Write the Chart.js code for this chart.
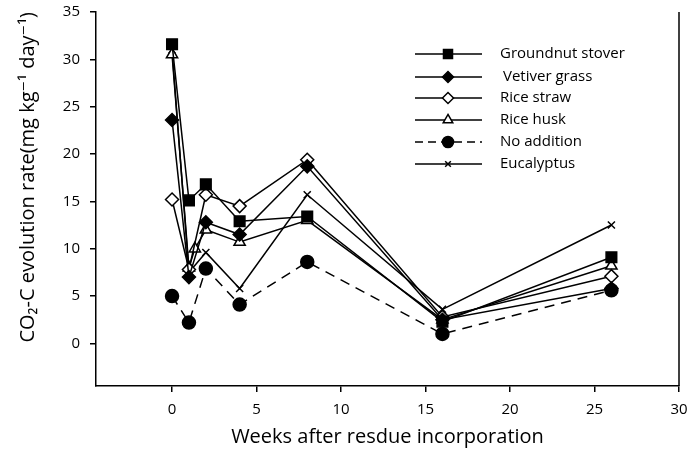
<!DOCTYPE html>
<html>
<head>
<meta charset="utf-8">
<script src="https://cdn.jsdelivr.net/npm/chart.js@4/dist/chart.umd.min.js"></script>
<style>
  html, body { margin: 0; padding: 0; background: #fff; }
  #wrap { width: 690px; height: 462px; }
</style>
</head>
<body>
<div id="wrap"><canvas id="co2"></canvas></div>
<script>
// weeks after incorporation and CO2-C evolution rate per residue
const weeks = [0, 1, 2, 4, 8, 16, 26];
const groundnut = [31.6, 15.1, 16.8, 12.9, 13.4, 2.3, 9.1];
const vetiver = [23.6, 7.0, 12.8, 11.5, 18.7, 2.5, 5.8];
const riceStraw = [15.2, 7.8, 15.7, 14.5, 19.4, 2.8, 7.1];
const riceHuskWeeks = [0, 1, 1.35, 2, 4, 8, 16, 26];
const riceHusk = [30.5, 8.0, 10.0, 12.0, 10.7, 13.0, 2.5, 8.2];
const noAddition = [5.0, 2.2, 7.9, 4.1, 8.6, 1.0, 5.6];
const eucWeeks = [0, 1, 2, 4, 8, 16, 26];
const eucalyptus = [31.0, 7.5, 9.6, 5.8, 15.7, 3.6, 12.5];

const xTicks = [0, 5, 10, 15, 20, 25, 30];
const yTicks = [0, 5, 10, 15, 20, 25, 30, 35];

const pts = (xs, ys) => xs.map((x, i) => ({ x: x, y: ys[i] }));

const series = [
    { label: 'Groundnut stover', data: pts(weeks, groundnut), pointStyle: 'rect', radius: 7.5, fill: '#000', dash: [] },
    { label: 'Vetiver grass', data: pts(weeks, vetiver), pointStyle: 'rectRot', radius: 6.5, fill: '#000', dash: [] },
    { label: 'Rice straw', data: pts(weeks, riceStraw), pointStyle: 'rectRot', radius: 6.5, fill: '#fff', dash: [] },
    { label: 'Rice husk', data: pts(riceHuskWeeks, riceHusk), pointStyle: 'triangle', radius: 6.5, fill: '#fff', dash: [] },
    { label: 'No addition', data: pts(weeks, noAddition), pointStyle: 'circle', radius: 6.5, fill: '#000', dash: [10, 7] },
    { label: 'Eucalyptus', data: pts(eucWeeks, eucalyptus), pointStyle: 'crossRot', radius: 5, fill: '#000', dash: [] },
];

const font = "'Open Sans', 'DejaVu Sans', sans-serif";

// legend drawn like the original: line + marker + text
const legendBox = {
    id: 'legendBox',
    afterDraw(chart) {
        const ctx = chart.ctx;
        const area = chart.chartArea;
        ctx.save();
        // right frame line
        ctx.strokeStyle = '#000';
        ctx.lineWidth = 1.5;
        ctx.beginPath();
        ctx.moveTo(area.right, area.top);
        ctx.lineTo(area.right, area.bottom);
        ctx.stroke();

        const rowY = [54, 77, 98, 120, 142, 164];
        series.forEach((s, i) => {
            const y = rowY[i];
            ctx.strokeStyle = '#000';
            ctx.lineWidth = 1.5;
            ctx.setLineDash(s.dash.length ? [8, 5] : []);
            ctx.beginPath();
            ctx.moveTo(415, y);
            ctx.lineTo(482, y);
            ctx.stroke();
            ctx.setLineDash([]);
            ctx.fillStyle = s.fill;
            Chart.helpers.drawPoint(ctx, {
                pointStyle: s.pointStyle,
                radius: s.pointStyle === 'crossRot' ? 4 : s.radius * 0.85,
                rotation: 0,
                borderWidth: 1.5
            }, 448, y);
            ctx.fillStyle = '#000';
            ctx.font = '15px ' + font;
            ctx.textBaseline = 'middle';
            ctx.textAlign = 'left';
            ctx.fillText(s.label, i === 1 ? 503 : 500, y);
        });
        ctx.restore();
    }
};

const noOverhang = scale => {
    scale.paddingTop = 0;
    scale.paddingBottom = 0;
    scale.paddingLeft = 0;
    scale.paddingRight = 0;
};

new Chart(document.getElementById('co2'), {
    type: 'scatter',
    data: {
        datasets: series.map(s => ({
            label: s.label,
            data: s.data,
            showLine: true,
            borderColor: '#000',
            borderWidth: 1.5,
            borderDash: s.dash,
            pointStyle: s.pointStyle,
            pointRadius: s.radius,
            pointHoverRadius: s.radius,
            pointBackgroundColor: s.fill,
            pointBorderColor: '#000',
            pointBorderWidth: 1.5,
            clip: false
        }))
    },
    options: {
        responsive: true,
        maintainAspectRatio: false,
        animation: false,
        layout: { padding: { top: 12, right: 11, left: 0, bottom: 0 } },
        plugins: {
            legend: { display: false },
            tooltip: { enabled: false }
        },
        scales: {
            x: {
                type: 'linear',
                min: -4.5,
                max: 30,
                afterBuildTicks: scale => { scale.ticks = xTicks.map(v => ({ value: v })); },
                afterFit: scale => { scale.height = 76; noOverhang(scale); },
                grid: { drawOnChartArea: false, tickLength: 6, color: '#000', lineWidth: 1.5 },
                border: { color: '#000', width: 1.5 },
                ticks: { color: '#000', font: { family: font, size: 15 }, padding: 9 },
                title: {
                    display: true,
                    text: 'Weeks after resdue incorporation',
                    color: '#000',
                    font: { family: font, size: 20 },
                    padding: { top: 0, bottom: 13 }
                }
            },
            y: {
                type: 'linear',
                min: -4.5,
                max: 35,
                afterBuildTicks: scale => { scale.ticks = yTicks.map(v => ({ value: v })); },
                afterFit: scale => { scale.width = 96; noOverhang(scale); },
                grid: { drawOnChartArea: false, tickLength: 6, color: '#000', lineWidth: 1.5 },
                border: { color: '#000', width: 1.5 },
                ticks: { color: '#000', font: { family: font, size: 15 }, padding: 10 },
                title: {
                    display: true,
                    text: 'CO\u2082-C evolution rate(mg kg\u207B\u00B9 day\u207B\u00B9)',
                    color: '#000',
                    align: 'end',
                    font: { family: font, size: 20 },
                    padding: { top: 16, bottom: 0 }
                }
            }
        }
    },
    plugins: [legendBox]
});
</script>
</body>
</html>
